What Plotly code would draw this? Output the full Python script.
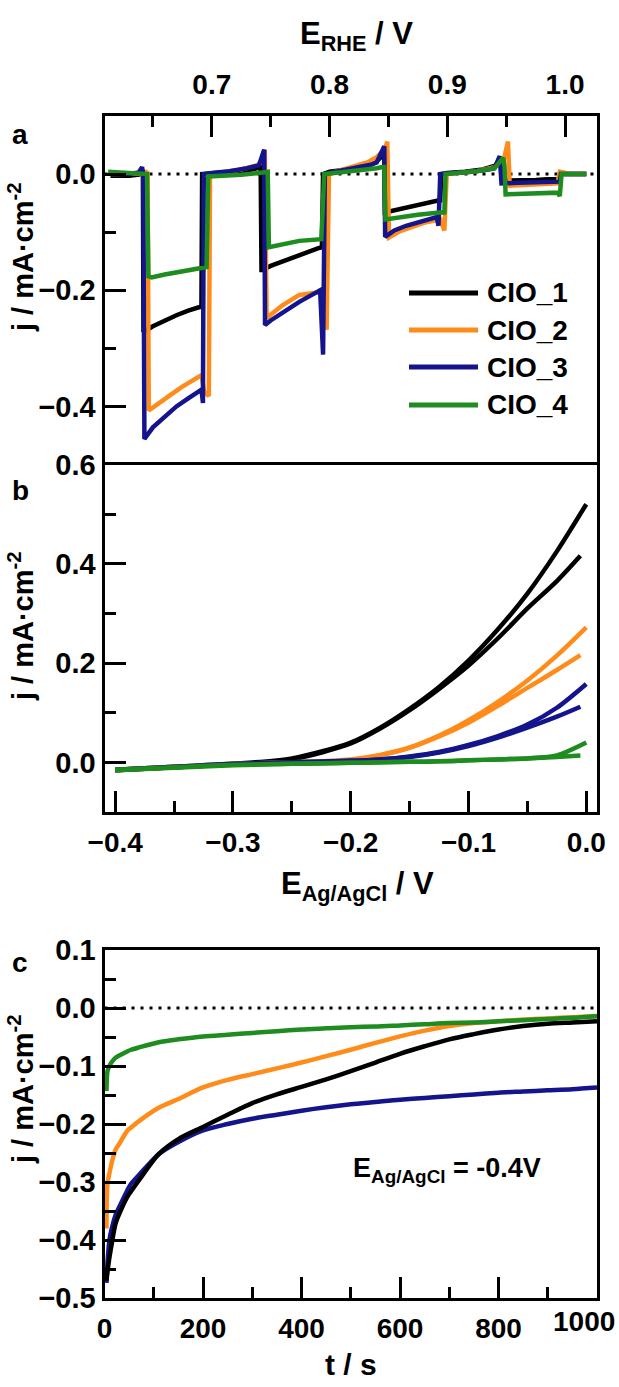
import plotly.graph_objects as go

W, H = 619, 1387

def fx(p):
    return p / W

def fy(p):
    return 1 - p / H

names = ["CIO_1", "CIO_2", "CIO_3", "CIO_4"]
colors = ["#000000", "#FF8C1A", "#14148C", "#1E8C1E"]

# ---------------- Panel a: chopped-light steps, j vs E_RHE ----------------
a_E_1 = [0.614, 0.630, 0.638, 0.6405, 0.6415, 0.6420, 0.650, 0.660, 0.670, 0.680, 0.6905, 0.6912,
         0.6918, 0.700, 0.715, 0.730, 0.738, 0.7415, 0.7422, 0.743, 0.750, 0.760, 0.770, 0.780, 0.790,
         0.7935, 0.7945, 0.800, 0.815, 0.830, 0.840, 0.8455, 0.8465, 0.847, 0.855, 0.865, 0.875, 0.885,
         0.893, 0.894, 0.8948, 0.900, 0.915, 0.930, 0.940, 0.945, 0.9465, 0.9475, 0.955, 0.965, 0.975,
         0.985, 0.994, 0.9955, 0.997, 1.005, 1.018]
a_j_1 = [-0.003, -0.003, -0.001, 0.003, 0.000, -0.272, -0.262, -0.252, -0.243, -0.235, -0.228, -0.228,
         0.000, 0.001, 0.003, 0.006, 0.010, 0.012, -0.165, -0.165, -0.158, -0.150, -0.142, -0.135, -0.128,
         -0.126, 0.000, 0.004, 0.008, 0.014, 0.022, 0.033, 0.025, -0.066, -0.062, -0.057, -0.052, -0.048,
         -0.045, -0.045, 0.000, 0.002, 0.004, 0.008, 0.014, 0.022, 0.018, -0.011, -0.011, -0.010, -0.010,
         -0.009, -0.009, -0.009, 0.000, 0.000, 0.000]

a_E_2 = [0.614, 0.630, 0.640, 0.644, 0.6455, 0.6465, 0.655, 0.665, 0.675, 0.685, 0.6913, 0.6935,
         0.6975, 0.6985, 0.710, 0.725, 0.738, 0.742, 0.745, 0.7466, 0.750, 0.760, 0.7743, 0.785, 0.793,
         0.7975, 0.7995, 0.805, 0.820, 0.832, 0.840, 0.8475, 0.849, 0.8505, 0.860, 0.870, 0.880, 0.894,
         0.8975, 0.8995, 0.910, 0.925, 0.940, 0.948, 0.9515, 0.953, 0.965, 0.980, 0.990, 0.9935, 0.9955,
         1.005, 1.018]
a_j_2 = [0.000, 0.000, 0.001, 0.004, 0.002, -0.407, -0.394, -0.380, -0.366, -0.354, -0.346, -0.375,
         -0.382, 0.000, 0.003, 0.008, 0.015, 0.020, 0.042, -0.248, -0.242, -0.226, -0.208, -0.205, -0.203,
         -0.268, 0.000, 0.004, 0.012, 0.020, 0.029, 0.045, 0.056, -0.109, -0.098, -0.090, -0.084, -0.078,
         -0.097, 0.000, 0.002, 0.005, 0.012, 0.025, 0.056, -0.020, -0.019, -0.017, -0.016, -0.016, 0.004,
         0.000, 0.000]

a_E_3 = [0.614, 0.630, 0.638, 0.6408, 0.6418, 0.6428, 0.650, 0.660, 0.670, 0.680, 0.6913, 0.6925,
         0.6932, 0.700, 0.715, 0.730, 0.740, 0.7445, 0.7452, 0.750, 0.760, 0.7743, 0.785, 0.792, 0.7945,
         0.7960, 0.805, 0.820, 0.835, 0.840, 0.8465, 0.8472, 0.855, 0.865, 0.875, 0.891, 0.8925, 0.8940,
         0.905, 0.920, 0.935, 0.940, 0.9445, 0.9460, 0.960, 0.975, 0.990, 0.9955, 0.9965, 1.005, 1.018]
a_j_3 = [0.000, 0.000, 0.003, 0.012, 0.000, -0.456, -0.436, -0.418, -0.400, -0.386, -0.371, -0.394,
         0.000, 0.002, 0.005, 0.010, 0.015, 0.042, -0.260, -0.252, -0.238, -0.220, -0.208, -0.200, -0.311,
         0.000, 0.004, 0.010, 0.016, 0.020, 0.048, -0.108, -0.097, -0.089, -0.083, -0.074, -0.089, 0.000,
         0.002, 0.004, 0.008, 0.010, 0.031, -0.016, -0.015, -0.014, -0.013, -0.013, 0.000, 0.000, 0.000]

a_E_4 = [0.612, 0.630, 0.640, 0.645, 0.6462, 0.649, 0.660, 0.670, 0.680, 0.6956, 0.6970, 0.710,
         0.725, 0.740, 0.746, 0.7475, 0.7485, 0.760, 0.7743, 0.793, 0.7955, 0.810, 0.825, 0.840, 0.845,
         0.8465, 0.8475, 0.860, 0.875, 0.8935, 0.8975, 0.8985, 0.910, 0.925, 0.940, 0.9475, 0.9485,
         0.9495, 0.965, 0.980, 0.994, 0.9955, 0.9970, 1.005, 1.018]
a_j_4 = [0.004, 0.002, 0.001, 0.000, -0.176, -0.178, -0.173, -0.169, -0.166, -0.160, -0.004, -0.003,
         -0.001, 0.002, 0.004, 0.004, -0.126, -0.121, -0.115, -0.112, 0.000, 0.003, 0.006, 0.010, 0.012,
         0.012, -0.078, -0.074, -0.070, -0.066, -0.066, 0.000, 0.002, 0.005, 0.010, 0.028, 0.015,
         -0.035, -0.034, -0.033, -0.032, -0.038, 0.000, 0.000, 0.000]

a_E = [a_E_1, a_E_2, a_E_3, a_E_4]
a_j = [a_j_1, a_j_2, a_j_3, a_j_4]

# ---------------- Panel b: LSV, two scans per sample, j vs E_Ag/AgCl ----------------
b_E_up = [-0.40, -0.35, -0.30, -0.25, -0.20, -0.175, -0.15, -0.125, -0.10, -0.075, -0.05, -0.025, 0.0]
b_j_up_1 = [-0.015, -0.009, -0.003, 0.008, 0.040, 0.070, 0.108, 0.152, 0.205, 0.268, 0.340, 0.425, 0.520]
b_j_up_2 = [-0.015, -0.009, -0.003, 0.000, 0.006, 0.015, 0.030, 0.054, 0.085, 0.122, 0.165, 0.215, 0.272]
b_j_up_3 = [-0.015, -0.009, -0.003, 0.000, 0.003, 0.006, 0.012, 0.021, 0.035, 0.053, 0.076, 0.110, 0.158]
b_j_up_4 = [-0.015, -0.010, -0.005, -0.003, -0.001, 0.000, 0.001, 0.002, 0.004, 0.006, 0.008, 0.014, 0.040]

b_E_dn = [-0.40, -0.35, -0.30, -0.25, -0.20, -0.175, -0.15, -0.125, -0.10, -0.075, -0.05, -0.025, -0.005]
b_j_dn_1 = [-0.016, -0.010, -0.004, 0.006, 0.038, 0.068, 0.105, 0.148, 0.195, 0.250, 0.310, 0.365, 0.416]
b_j_dn_2 = [-0.016, -0.010, -0.004, 0.000, 0.005, 0.014, 0.029, 0.052, 0.080, 0.114, 0.150, 0.186, 0.216]
b_j_dn_3 = [-0.016, -0.010, -0.004, 0.000, 0.003, 0.006, 0.011, 0.020, 0.033, 0.050, 0.070, 0.092, 0.112]
b_j_dn_4 = [-0.016, -0.011, -0.006, -0.003, -0.001, 0.000, 0.001, 0.002, 0.004, 0.006, 0.008, 0.011, 0.014]

b_j_up = [b_j_up_1, b_j_up_2, b_j_up_3, b_j_up_4]
b_j_dn = [b_j_dn_1, b_j_dn_2, b_j_dn_3, b_j_dn_4]

# ---------------- Panel c: chronoamperometry at -0.4 V ----------------
c_t = [4, 6, 10, 14, 22, 30, 46, 54, 70, 110, 150, 200, 250, 300, 350, 400, 450, 500, 550, 600,
       650, 700, 750, 800, 850, 900, 950, 1000]
c_j_1 = [-0.470, -0.455, -0.430, -0.410, -0.373, -0.355, -0.326, -0.316, -0.297, -0.252, -0.226,
         -0.205, -0.184, -0.164, -0.149, -0.136, -0.123, -0.109, -0.094, -0.079, -0.066, -0.054, -0.045,
         -0.037, -0.031, -0.027, -0.025, -0.023]
c_j_2 = [-0.380, -0.303, -0.285, -0.269, -0.245, -0.234, -0.212, -0.206, -0.195, -0.172, -0.157,
         -0.137, -0.124, -0.114, -0.104, -0.094, -0.083, -0.072, -0.060, -0.049, -0.039, -0.031, -0.026,
         -0.023, -0.020, -0.018, -0.016, -0.014]
c_j_3 = [-0.474, -0.440, -0.400, -0.383, -0.358, -0.343, -0.315, -0.303, -0.288, -0.252, -0.231,
         -0.211, -0.200, -0.191, -0.184, -0.177, -0.171, -0.166, -0.162, -0.158, -0.155, -0.152, -0.149,
         -0.146, -0.144, -0.142, -0.140, -0.137]
c_j_4 = [-0.143, -0.109, -0.100, -0.094, -0.086, -0.082, -0.075, -0.072, -0.068, -0.059, -0.054,
         -0.049, -0.046, -0.043, -0.040, -0.037, -0.035, -0.033, -0.032, -0.030, -0.028, -0.026, -0.025,
         -0.023, -0.021, -0.019, -0.017, -0.014]
c_j = [c_j_1, c_j_2, c_j_3, c_j_4]

c_tickvals = [0, 200, 400, 600, 800, 1000]
c_ticktext = ["0", "200", "400", "600", "800", ""]   # "1000" is set as an annotation, nudged inside the page
c_last_label = "1000"

# ---------------- axes geometry ----------------
XD = [fx(104.5), fx(597)]
YA = [fy(464.5), fy(116)]
YB = [fy(812), fy(464.5)]
YC = [fy(1298), fy(950)]
E_OFFSET = 1.018            # E_RHE = E_Ag/AgCl + offset
AG_RANGE = [-0.4091, 0.0091]
RHE_RANGE = [AG_RANGE[0] + E_OFFSET, AG_RANGE[1] + E_OFFSET]

LW = 4.5
fig = go.Figure()

for i in range(4):
    fig.add_trace(go.Scatter(x=a_E[i], y=a_j[i], mode="lines", name=names[i],
                             line=dict(color=colors[i], width=LW), xaxis="x2", yaxis="y",
                             showlegend=False))
for i in range(4):
    fig.add_trace(go.Scatter(x=b_E_up, y=b_j_up[i], mode="lines", name=names[i],
                             line=dict(color=colors[i], width=LW, shape="spline", smoothing=0.8),
                             xaxis="x3", yaxis="y2", showlegend=False))
    fig.add_trace(go.Scatter(x=b_E_dn, y=b_j_dn[i], mode="lines", name=names[i],
                             line=dict(color=colors[i], width=LW, shape="spline", smoothing=0.8),
                             xaxis="x3", yaxis="y2", showlegend=False))
for i in [2, 0, 1, 3]:
    fig.add_trace(go.Scatter(x=c_t, y=c_j[i], mode="lines", name=names[i],
                             line=dict(color=colors[i], width=LW, shape="spline", smoothing=0.8),
                             xaxis="x4", yaxis="y3", showlegend=False))

FAM = "Liberation Sans, Arial, sans-serif"
YTICKFONT = dict(family=FAM, size=29, color="black", weight="bold")
XTICKFONT = dict(family=FAM, size=28, color="black", weight="bold")
TTICKFONT = dict(family=FAM, size=28, color="black", weight="bold")
MINOR = dict(ticks="inside", ticklen=11, tickwidth=3, tickcolor="black", showgrid=False)
common = dict(showline=True, linecolor="black", linewidth=3, ticks="inside", ticklen=21,
              tickwidth=3, tickcolor="black", showgrid=False, zeroline=False, automargin=False)

fig.update_layout(
    width=W, height=H, autosize=False,
    margin=dict(l=0, r=0, t=0, b=0, autoexpand=False),
    paper_bgcolor="white", plot_bgcolor="white",
    font=dict(family=FAM, size=26, color="black", weight="bold"),
    showlegend=False,
    xaxis=dict(common, domain=XD, anchor="y", range=AG_RANGE, tick0=0, dtick=0.1,
               showticklabels=False, minor=dict(MINOR, dtick=0.05)),
    xaxis2=dict(common, domain=XD, anchor="y", overlaying="x", side="top", range=RHE_RANGE,
                tickvals=[0.7, 0.8, 0.9, 1.0], ticktext=["0.7", "0.8", "0.9", "1.0"],
                tickfont=TTICKFONT, ticklabelstandoff=8,
                minor=dict(MINOR, tickvals=[0.65, 0.75, 0.85, 0.95])),
    yaxis=dict(common, domain=YA, anchor="x", range=[-0.5, 0.1], tick0=0, dtick=0.2,
               tickformat=".1f", mirror=True, tickfont=YTICKFONT, minor=dict(MINOR, dtick=0.1)),
    xaxis3=dict(common, domain=XD, anchor="y2", range=AG_RANGE, tick0=0, dtick=0.1,
                tickformat=".1f", mirror=True, tickfont=XTICKFONT, ticklabelstandoff=3,
                minor=dict(MINOR, dtick=0.05)),
    yaxis2=dict(common, domain=YB, anchor="x3", range=[-0.1, 0.6], tick0=0, dtick=0.2,
                tickformat=".1f", mirror=True, tickfont=YTICKFONT, minor=dict(MINOR, dtick=0.1)),
    xaxis4=dict(common, domain=XD, anchor="y3", range=[0, 1000], tickvals=c_tickvals,
                ticktext=c_ticktext, mirror=True, tickfont=XTICKFONT, ticklabelstandoff=3,
                minor=dict(MINOR, dtick=100)),
    yaxis3=dict(common, domain=YC, anchor="x4", range=[-0.5, 0.1], tick0=0, dtick=0.1,
                tickformat=".1f", mirror=True, tickfont=YTICKFONT, minor=dict(MINOR, dtick=0.05)),
)

# dotted zero lines
for yref in ["y", "y3"]:
    fig.add_shape(type="line", xref="paper", x0=XD[0], x1=XD[1], yref=yref, y0=0, y1=0,
                  line=dict(color="black", width=3, dash="3px,6px"), layer="below")

# manual legend in panel a
leg_rows = [293, 330, 367, 405]
for i in range(4):
    fig.add_shape(type="line", xref="paper", yref="paper", x0=fx(409), x1=fx(478),
                  y0=fy(leg_rows[i]), y1=fy(leg_rows[i]),
                  line=dict(color=colors[i], width=5))
    fig.add_annotation(text=names[i], xref="paper", yref="paper", x=fx(485), y=fy(leg_rows[i]),
                       xanchor="left", yanchor="middle", showarrow=False,
                       font=dict(size=28))

# last x tick label of panel c, kept inside the page
fig.add_annotation(text=c_last_label, xref="paper", yref="paper", x=fx(617), y=fy(1304),
                   xanchor="right", yanchor="top", showarrow=False, font=dict(size=28))

# titles
ann = [
    dict(text="E<sub>RHE</sub> / V", x=fx(356), y=fy(36), size=31, angle=0),
    dict(text="E<sub>Ag/AgCl</sub> / V", x=fx(357), y=fy(886), size=31, angle=0),
    dict(text="t / s", x=fx(351), y=fy(1364), size=30, angle=0),
    dict(text="j / mA·cm<sup>-2</sup>", x=fx(21), y=fy(257), size=29, angle=-90),
    dict(text="j / mA·cm<sup>-2</sup>", x=fx(21), y=fy(626), size=29, angle=-90),
    dict(text="j / mA·cm<sup>-2</sup>", x=fx(21), y=fy(1089), size=29, angle=-90),
    dict(text="a", x=fx(20), y=fy(134), size=28, angle=0),
    dict(text="b", x=fx(20), y=fy(490), size=28, angle=0),
    dict(text="c", x=fx(20), y=fy(962), size=28, angle=0),
    dict(text="E<sub>Ag/AgCl</sub> = -0.4V", x=fx(447), y=fy(1170), size=27, angle=0),
]
for a in ann:
    fig.add_annotation(text=a["text"], xref="paper", yref="paper", x=a["x"], y=a["y"],
                       xanchor="center", yanchor="middle", showarrow=False,
                       textangle=a["angle"], font=dict(size=a["size"]))

fig.write_html("out.html")
